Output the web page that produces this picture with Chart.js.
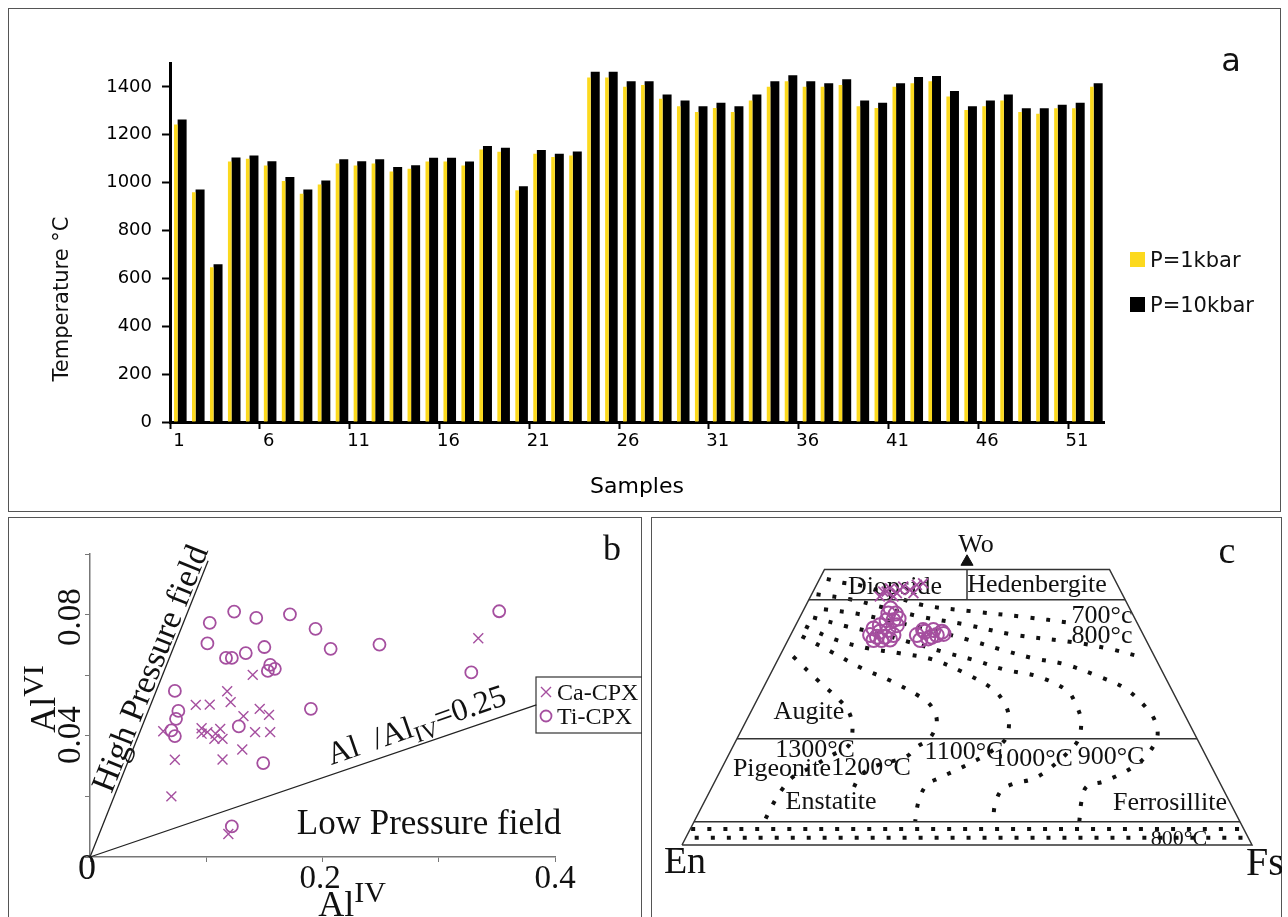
<!DOCTYPE html>
<html>
<head>
<meta charset="utf-8">
<script src="https://cdn.jsdelivr.net/npm/chart.js@4/dist/chart.umd.min.js"></script>
<style>
  body { margin: 0; background: #fff; width: 1288px; height: 917px; position: relative; overflow: hidden; }
  .box { position: absolute; border: 1.5px solid #555; box-sizing: border-box; }
  canvas { position: absolute; }
</style>
</head>
<body>
<div class="box" style="left:8px;top:8px;width:1273px;height:504px"></div>
<div class="box" style="left:8px;top:517px;width:634px;height:420px"></div>
<div class="box" style="left:651px;top:517px;width:631px;height:420px"></div>
<canvas id="chartA" width="1273" height="503" style="left:8px;top:8px"></canvas>
<canvas id="chartB" width="634" height="400" style="left:8px;top:517px"></canvas>
<canvas id="chartC" width="631" height="400" style="left:651px;top:517px"></canvas>
<script>
// ---- panel a : temperatures per sample ----
const samples = ['1','2','3','4','5','6','7','8','9','10','11','12','13','14','15','16','17','18','19','20',
  '21','22','23','24','25','26','27','28','29','30','31','32','33','34','35','36','37','38','39','40',
  '41','42','43','44','45','46','47','48','49','50','51','52'];
const p1kbar = [1243, 960, 647, 1088, 1100, 1072, 1007, 954, 992, 1080, 1072, 1080, 1047, 1058, 1088, 1088, 1072, 1139, 1129, 968,
  1121, 1107, 1114, 1439, 1439, 1401, 1408, 1351, 1319, 1295, 1312, 1295, 1343, 1401, 1424, 1401, 1401, 1408, 1319, 1312,
  1401, 1415, 1424, 1360, 1304, 1319, 1343, 1295, 1288, 1311, 1311, 1401];
const p10kbar = [1264, 971, 659, 1105, 1114, 1090, 1024, 971, 1009, 1098, 1090, 1098, 1065, 1073, 1104, 1104, 1088, 1153, 1146, 985,
  1137, 1121, 1130, 1463, 1463, 1424, 1424, 1368, 1343, 1319, 1334, 1319, 1368, 1424, 1449, 1424, 1415, 1432, 1343, 1334,
  1415, 1441, 1446, 1383, 1319, 1343, 1368, 1311, 1311, 1326, 1334, 1415];
const yTicksA = [0, 200, 400, 600, 800, 1000, 1200, 1400];

// ---- panel b : Al(IV) vs Al(VI) ----
const caCpx = [[0.334,0.0722],[0.140,0.0601],[0.118,0.0547],[0.121,0.0511],[0.091,0.0502],[0.103,0.0503],
  [0.132,0.0465],[0.146,0.0489],[0.154,0.0469],[0.063,0.0415],[0.096,0.0425],[0.101,0.0412],[0.096,0.0407],
  [0.108,0.0407],[0.112,0.0423],[0.107,0.0390],[0.114,0.0390],[0.142,0.0412],[0.155,0.0412],[0.131,0.0355],
  [0.073,0.0321],[0.114,0.0322],[0.070,0.0200],[0.119,0.0076]];
const tiCpx = [[0.124,0.0810],[0.103,0.0773],[0.143,0.0789],[0.172,0.0801],[0.194,0.0753],[0.352,0.0811],
  [0.101,0.0705],[0.150,0.0693],[0.117,0.0657],[0.122,0.0657],[0.134,0.0673],[0.207,0.0687],[0.249,0.0701],
  [0.155,0.0634],[0.153,0.0614],[0.159,0.0621],[0.328,0.0609],[0.073,0.0548],[0.076,0.0482],[0.074,0.0456],
  [0.070,0.0418],[0.073,0.0399],[0.128,0.0431],[0.190,0.0489],[0.149,0.0310],[0.122,0.0101]];
const highLine = [[0,0],[0.1016,0.0978]];
const lowLine = [[0,0],[0.384,0.0502]];

// ---- panel c : pyroxene quadrilateral (x = Fs + Wo/2, y = Wo) ----
const outline = [[0,0],[100,0],[75,50],[25,50],[0,0]];
const wo44 = [[22.25,44.5],[77.75,44.5]];
const wo19 = [[9.65,19.3],[90.35,19.3]];
const wo4 = [[2.1,4.2],[97.9,4.2]];
const divider = [[50,44.5],[50,50]];
const woApex = [[50,51.4]];
const iso700 = [[25.4,48.3],[28.2,47.6],[31,47.2],[36,45.6],[42,43.6],[51,42.4],[60,41.4],[68.4,40.3]];
const iso800 = [[23.6,45.5],[29.5,44.6],[35,43.2],[42,41.4],[49.3,40.1],[58,38.2],[69.3,36.7],[75,35.6],[80.7,34.1]];
const iso900 = [[24.9,42.8],[30.6,42],[36,40.8],[43,39.2],[50.4,37.2],[55.9,35.5],[61.6,33.9],[67.2,32.8],
  [72.8,30.7],[77.9,28.3],[82.1,24.1],[83.3,21.5],[83.3,19.3],[81.5,16.2],[79.2,14.2],[76.8,12.8],[73.9,11.5],
  [71,10.6],[70.1,8],[69.7,4.2]];
const iso1000 = [[23,41.3],[28.8,39.7],[34,38.5],[40,36.8],[46,35],[51.1,33.6],[56.7,31.8],[62.4,30.6],[67.6,28],
  [69.1,25.5],[70,22.7],[69.6,19.3],[68.1,17.2],[63.9,13.4],[61.3,11.9],[58.4,11.2],[56.1,10],[54.9,7.3],[54.6,4.2]];
const iso1100 = [[21.6,39.7],[26.8,37.3],[32.6,35.7],[38.2,34.8],[43.9,33.7],[49.4,31.3],[54.4,28.4],[56.3,26.2],
  [57.3,23.5],[56.8,19.3],[53.2,16.3],[50.5,14.8],[47.9,13.5],[45,12.1],[42.9,10.9],[41.5,7.9],[40.9,4.2]];
const iso1200 = [[21,37.9],[26.3,35],[31.3,32.2],[36.6,29.8],[41.6,27],[43.8,25.1],[44.7,22.3],[43.4,19.3],
  [41.2,17.8],[39.3,16],[33.6,14.2],[31.2,12.4],[29.8,9.7]];
const iso1300 = [[19.5,34.2],[23.6,30.1],[27.9,26],[29.5,23.6],[29.9,20.6],[29.2,18],[26.3,16.3],[22.5,14],
  [19.5,12.4],[17.5,10],[16,7.5],[14.4,4.2]];
const band800a = [[1.6,2.9],[98.4,2.9]];
const band800b = [[0.8,1.3],[99.2,1.3]];
const caCpxC = [[35.3,46.0],[36.5,46.6],[37.7,45.7],[38.8,46.9],[40.0,46.3],[41.2,47.2],[42.3,47.5],[34.7,45.1],
  [37.1,45.1],[35.9,46.0],[38.2,46.3],[40.6,45.7]];
const tiCpxC = [[36.2,42.0],[37.5,42.0],[37.1,40.8],[35.9,40.8],[34.7,39.9],[37.7,39.9],[33.6,39.3],[34.7,38.7],
  [36.2,39.0],[34.2,37.8],[35.6,37.8],[37.1,38.1],[33.6,37.2],[35.0,37.2],[36.5,37.3],[38.0,41.1],[36.6,42.9],
  [33.0,38.1],[41.2,38.1],[42.6,38.7],[44.1,39.0],[45.6,38.7],[41.8,37.2],[43.2,37.5],[44.7,38.1],[45.9,38.3],
  [42.3,39.0],[43.8,37.8]];

const yellow = '#fcd91e';
const purple = '#a54f9f';

// text, boxes and legend marks, placed in page pixels (cfg kept out of Chart.js option resolving)
function makeTextLayer(cfg) {
  function paint(chart) {
    const ctx = chart.ctx;
    cfg.items.forEach(it => {
      ctx.save();
      ctx.translate(it.x - cfg.left, it.y - cfg.top);
      ctx.rotate((it.rot || 0) * Math.PI / 180);
      ctx.fillStyle = it.color || '#111';
      ctx.strokeStyle = it.color || '#111';
      if (it.box) {
        ctx.lineWidth = 1.2;
        ctx.strokeRect(0, 0, it.box[0], it.box[1]);
      } else if (it.fill) {
        ctx.fillRect(0, 0, it.fill[0], it.fill[1]);
      } else if (it.mark === 'cross') {
        ctx.lineWidth = 1.4;
        ctx.beginPath();
        ctx.moveTo(-5, -5); ctx.lineTo(5, 5);
        ctx.moveTo(5, -5); ctx.lineTo(-5, 5);
        ctx.stroke();
      } else if (it.mark === 'circle') {
        ctx.lineWidth = 1.8;
        ctx.beginPath();
        ctx.arc(0, 0, 5.5, 0, Math.PI * 2);
        ctx.stroke();
      } else {
        const parts = it.parts || [{t: it.t, size: it.size}];
        const widths = parts.map(p => { ctx.font = p.size + 'px ' + cfg.family; return ctx.measureText(p.t).width; });
        const total = widths.reduce((a, b) => a + b, 0);
        let x = it.align === 'left' ? 0 : -total / 2;
        const base = parts[0].size * 0.35;
        ctx.textBaseline = 'alphabetic';
        ctx.textAlign = 'left';
        parts.forEach((p, i) => {
          ctx.font = p.size + 'px ' + cfg.family;
          ctx.fillText(p.t, x, base + (p.dy || 0));
          x += widths[i];
        });
      }
      ctx.restore();
    });
  }
  return {
    id: 'textLayer',
    beforeDatasetsDraw(chart) { if (cfg.under) paint(chart); },
    afterDatasetsDraw(chart) { if (!cfg.under) paint(chart); }
  };
}

const pts = arr => arr.map(p => ({x: p[0], y: p[1]}));

// ---------- chart a ----------
new Chart(document.getElementById('chartA'), {
  type: 'bar',
  plugins: [makeTextLayer({
    left: 8, top: 8, family: '"DejaVu Sans"',
    items: [
      { t: 'Temperature °C', x: 61, y: 299, size: 21, rot: -90 },
      { t: 'a', x: 1231, y: 60, size: 32 },
      { fill: [15, 15], x: 1130, y: 252, color: yellow },
      { t: 'P=1kbar', x: 1150, y: 260, size: 21, align: 'left' },
      { fill: [15, 15], x: 1130, y: 297, color: '#000' },
      { t: 'P=10kbar', x: 1150, y: 305, size: 21, align: 'left' }
    ]
  })],
  data: {
    labels: samples,
    datasets: [{
      label: 'P=1kbar',
      data: p1kbar,
      backgroundColor: yellow,
      categoryPercentage: 0.7,
      barPercentage: 0.57
    }, {
      label: 'P=10kbar',
      data: p10kbar,
      backgroundColor: '#000',
      categoryPercentage: 0.7,
      barPercentage: 1.43
    }]
  },
  options: {
    responsive: false,
    animation: false,
    events: [],
    layout: { padding: { top: 55, right: 177, left: 0, bottom: 0 } },
    plugins: { legend: { display: false }, tooltip: { enabled: false } },
    scales: {
      x: {
        grid: {
          drawOnChartArea: false, drawTicks: true, tickLength: 7, tickWidth: 2,
          tickColor: ctx => (ctx.index % 5 === 0 ? '#000' : 'rgba(0,0,0,0)')
        },
        border: { color: '#000', width: 3 },
        ticks: {
          autoSkip: false, maxRotation: 0, minRotation: 0, padding: 2, color: '#000',
          font: { family: 'DejaVu Sans', size: 18 },
          callback: (v, i) => (i % 5 === 0 ? samples[i] : '')
        },
        title: {
          display: true, text: 'Samples', color: '#000',
          font: { family: 'DejaVu Sans', size: 22 },
          padding: { top: 0, bottom: 11 }
        },
        afterFit: s => { s.height = 89; }
      },
      y: {
        min: 0, max: 1500,
        afterBuildTicks: s => { s.ticks = yTicksA.map(v => ({ value: v })); },
        grid: { drawOnChartArea: false, drawTicks: true, tickLength: 8, tickWidth: 2, tickColor: '#000' },
        border: { color: '#000', width: 3 },
        ticks: { padding: 10, color: '#000', font: { family: 'DejaVu Sans', size: 18 }, callback: v => String(v) },
        afterFit: s => { s.width = 162; }
      }
    }
  }
});

// ---------- chart b ----------
new Chart(document.getElementById('chartB'), {
  type: 'scatter',
  plugins: [makeTextLayer({
    left: 8, top: 517, family: '"Liberation Serif"', under: true,
    items: [
      { t: 'High Pressure field', x: 149, y: 668, size: 34, rot: -68.3 },
      { parts: [{ t: 'Al  /Al', size: 32 }, { t: 'IV', size: 23, dy: 7 }, { t: '=0.25', size: 32 }], x: 416, y: 724, rot: -19 },
      { t: 'Low Pressure field', x: 429, y: 822, size: 35 },
      { t: 'b', x: 612, y: 547, size: 36 },
      { t: '0', x: 87, y: 866, size: 36 },
      { t: '0.2', x: 320, y: 876, size: 33 },
      { t: '0.4', x: 555, y: 876, size: 33 },
      { t: '0.08', x: 68, y: 617, size: 33, rot: -90 },
      { t: '0.04', x: 68, y: 735, size: 33, rot: -90 },
      { parts: [{ t: 'Al', size: 36 }, { t: 'VI', size: 30, dy: -12 }], x: 42, y: 699, rot: -90 },
      { parts: [{ t: 'Al', size: 36 }, { t: 'IV', size: 30, dy: -14 }], x: 352, y: 903 },
      { box: [108, 56], x: 536, y: 677, color: '#333' },
      { mark: 'cross', x: 546, y: 692, color: purple },
      { t: 'Ca-CPX', x: 557, y: 692, size: 24, align: 'left' },
      { mark: 'circle', x: 546, y: 716, color: purple },
      { t: 'Ti-CPX', x: 557, y: 716, size: 24, align: 'left' }
    ]
  })],
  data: {
    datasets: [{
      label: 'Ca-CPX',
      data: pts(caCpx),
      pointStyle: 'crossRot', pointRadius: 7, pointBorderWidth: 1.4,
      borderColor: purple, backgroundColor: purple
    }, {
      label: 'Ti-CPX',
      data: pts(tiCpx),
      pointStyle: 'circle', pointRadius: 6, pointBorderWidth: 1.8,
      borderColor: purple, backgroundColor: 'rgba(0,0,0,0)'
    }, {
      data: pts(highLine), showLine: true, pointRadius: 0, borderColor: '#222', borderWidth: 1.3, clip: false
    }, {
      data: pts(lowLine), showLine: true, pointRadius: 0, borderColor: '#222', borderWidth: 1.3, clip: false
    }]
  },
  options: {
    responsive: false,
    animation: false,
    events: [],
    layout: { padding: { top: 37, right: 87, left: 0, bottom: 0 } },
    plugins: { legend: { display: false }, tooltip: { enabled: false } },
    scales: {
      x: {
        type: 'linear', min: 0, max: 0.4,
        ticks: { stepSize: 0.1, display: false },
        grid: { drawOnChartArea: false, drawTicks: true, tickLength: 5, tickWidth: 1, tickColor: '#777' },
        border: { color: '#777', width: 1.5 },
        afterFit: s => { s.height = 60; }
      },
      y: {
        min: 0, max: 0.1,
        ticks: { stepSize: 0.02, display: false },
        grid: { drawOnChartArea: false, drawTicks: true, tickLength: 5, tickWidth: 1, tickColor: '#777' },
        border: { color: '#777', width: 1.5 },
        afterFit: s => { s.width = 82; }
      }
    }
  }
});

// ---------- chart c ----------
const solid = arr => ({ data: pts(arr), showLine: true, pointRadius: 0, borderColor: '#333', borderWidth: 1.5, clip: false });
const dotted = arr => ({ data: pts(arr), showLine: true, pointRadius: 0, borderColor: '#111', borderWidth: 4,
  borderDash: [4, 12], tension: 0.35, clip: false });

new Chart(document.getElementById('chartC'), {
  type: 'scatter',
  plugins: [makeTextLayer({
    left: 651, top: 517, family: '"Liberation Serif"', under: true,
    items: [
      { t: 'Wo', x: 976, y: 543, size: 26 },
      { t: 'c', x: 1227, y: 550, size: 38 },
      { t: 'Diopside', x: 895, y: 585, size: 26 },
      { t: 'Hedenbergite', x: 1037, y: 583, size: 26 },
      { t: '700°c', x: 1102, y: 614, size: 26 },
      { t: '800°c', x: 1102, y: 634, size: 26 },
      { t: 'Augite', x: 809, y: 710, size: 26 },
      { t: '1300°C', x: 815, y: 748, size: 26 },
      { t: 'Pigeonite', x: 782, y: 767, size: 26 },
      { t: '1200°C', x: 871, y: 766, size: 26 },
      { t: '1100°C', x: 964, y: 750, size: 26 },
      { t: '1000°C', x: 1033, y: 757, size: 26 },
      { t: '900°C', x: 1111, y: 755, size: 26 },
      { t: 'Enstatite', x: 831, y: 800, size: 26 },
      { t: 'Ferrosillite', x: 1170, y: 801, size: 26 },
      { t: '800°C', x: 1179, y: 837, size: 22 },
      { t: 'En', x: 685, y: 860, size: 38 },
      { t: 'Fs', x: 1265, y: 861, size: 40 }
    ]
  })],
  data: {
    datasets: [
      { label: 'Ti-CPX', data: pts(tiCpxC), pointStyle: 'circle', pointRadius: 7, pointBorderWidth: 2,
        borderColor: purple, backgroundColor: 'rgba(0,0,0,0)', clip: false },
      { label: 'Ca-CPX', data: pts(caCpxC), pointStyle: 'crossRot', pointRadius: 7, pointBorderWidth: 1.8,
        borderColor: purple, clip: false },
      { data: pts(woApex), pointStyle: 'triangle', pointRadius: 7, backgroundColor: '#111', borderColor: '#111', clip: false },
      solid(outline), solid(wo44), solid(wo19), solid(wo4), solid(divider),
      dotted(iso700), dotted(iso800), dotted(iso900), dotted(iso1000), dotted(iso1100), dotted(iso1200), dotted(iso1300),
      dotted(band800a),
      Object.assign(dotted(band800b), { borderDashOffset: 8 })
    ]
  },
  options: {
    responsive: false,
    animation: false,
    events: [],
    layout: { padding: { top: 52.5, right: 30, left: 31, bottom: 72 } },
    plugins: { legend: { display: false }, tooltip: { enabled: false } },
    scales: {
      x: { type: 'linear', min: 0, max: 100, display: false },
      y: { min: 0, max: 50, display: false }
    }
  }
});
</script>
</body>
</html>
